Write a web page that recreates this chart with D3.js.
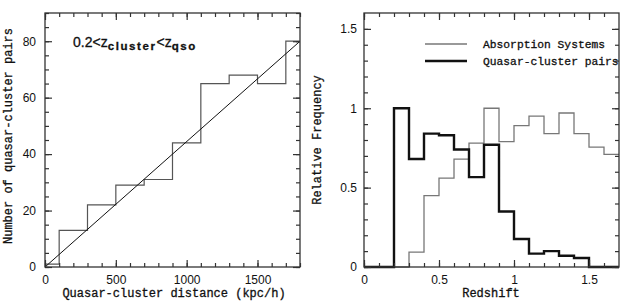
<!DOCTYPE html>
<html>
<head>
<meta charset="utf-8">
<script src="https://cdn.jsdelivr.net/npm/d3@7"></script>
<style>
  body { margin: 0; background: #fff; }
  svg text { fill: #111; }
  .tick text { font-family: "Liberation Sans", Arial, sans-serif; font-size: 12px; }
  .lab { font-family: "Liberation Mono", "DejaVu Sans Mono", monospace; stroke: #111; stroke-width: 0.3px; }
</style>
</head>
<body>
<div id="canvas"></div>
<script>
"use strict"

/* Left panel data: pair counts per distance bin */
let distEdges = [0, 100, 300, 500, 700, 900, 1100, 1300, 1500, 1700, 1800];
let pairCounts = [1, 13, 22, 29, 31, 44, 65, 68, 65, 80];
let fitLine = [[0, 0], [1800, 80]];

/* Right panel data: relative frequency per redshift bin (width 0.1) */
let zEdges = [0, 0.1, 0.2, 0.3, 0.4, 0.5, 0.6, 0.7, 0.8, 0.9, 1.0, 1.1, 1.2, 1.3, 1.4, 1.5, 1.6, 1.7];
let absorption = [0, 0, 0, 0.094, 0.45, 0.56, 0.68, 0.78, 1.0, 0.79, 0.89, 0.95, 0.84, 0.97, 0.84, 0.755, 0.71];
let qsoPairs = [0, 0, 1.0, 0.68, 0.84, 0.83, 0.74, 0.566, 0.77, 0.35, 0.176, 0.084, 0.10, 0.071, 0.057, 0, 0];
let legendNames = ["Absorption Systems", "Quasar-cluster pairs"];

let svgWidth = 623;
let svgHeight = 303;

let svg = d3.select("#canvas")
    .append("svg")
    .attr("width", svgWidth)
    .attr("height", svgHeight);

let frameTop = 13, frameBottom = 267;

/* boxed frame with inward ticks on all four sides */
function drawFrame(x, y, xMajor, xMinor, yMajor, yMinor, fmt, yPad) {
    let g = svg.append("g");
    let [x0, x1] = x.range();
    let [y0, y1] = y.range();

    // minor ticks
    let minor = [
        [d3.axisBottom(x).tickValues(xMinor), "translate(0," + y0 + ")"],
        [d3.axisTop(x).tickValues(xMinor), "translate(0," + y1 + ")"],
        [d3.axisLeft(y).tickValues(yMinor), "translate(" + x0 + ",0)"],
        [d3.axisRight(y).tickValues(yMinor), "translate(" + x1 + ",0)"]
    ];
    minor.forEach(function (m) {
        g.append("g").attr("transform", m[1])
            .call(m[0].tickSize(-4).tickFormat(""))
            .select(".domain").remove();
    });

    // major ticks, labels on bottom and left
    let bottom = g.append("g").attr("transform", "translate(0," + y0 + ")")
        .call(d3.axisBottom(x).tickValues(xMajor).tickSize(-7).tickPadding(8).tickFormat(fmt));
    let top = g.append("g").attr("transform", "translate(0," + y1 + ")")
        .call(d3.axisTop(x).tickValues(xMajor).tickSize(-7).tickFormat(""));
    let left = g.append("g").attr("transform", "translate(" + x0 + ",0)")
        .call(d3.axisLeft(y).tickValues(yMajor).tickSize(-7).tickPadding(yPad).tickFormat(fmt));
    let right = g.append("g").attr("transform", "translate(" + x1 + ",0)")
        .call(d3.axisRight(y).tickValues(yMajor).tickSize(-7).tickFormat(""));
    [bottom, top, left, right].forEach(s => s.select(".domain").remove());

    g.selectAll(".tick line").attr("stroke", "#333").attr("stroke-width", 1.2);
    g.selectAll(".tick text").attr("fill", "#111");
    g.append("rect")
        .attr("x", x0).attr("y", y1)
        .attr("width", x1 - x0).attr("height", y0 - y1)
        .attr("fill", "none").attr("stroke", "#333").attr("stroke-width", 1.3);
}

function stepPoints(edges, values) {
    let pts = values.map((v, i) => [edges[i], v]);
    pts.push([edges[edges.length - 1], values[values.length - 1]]);
    return pts;
}

/**** Left panel ****/
let xL = d3.scaleLinear().domain([0, 1800]).range([45, 300]);
let yL = d3.scaleLinear().domain([0, 90]).range([frameBottom, frameTop]);

svg.append("path")
    .attr("d", d3.line().x(d => xL(d[0])).y(d => yL(d[1]))
        .curve(d3.curveStepAfter)(stepPoints(distEdges, pairCounts)))
    .attr("fill", "none").attr("stroke", "#555").attr("stroke-width", 1.2);

svg.append("path")
    .attr("d", d3.line().x(d => xL(d[0])).y(d => yL(d[1]))(fitLine))
    .attr("fill", "none").attr("stroke", "#111").attr("stroke-width", 1);

drawFrame(xL, yL,
    [0, 500, 1000, 1500],
    d3.range(0, 1801, 100),
    [0, 20, 40, 60, 80],
    d3.range(0, 91, 5),
    d3.format("d"), 9);

/* annotation with subscripts */
let ann = svg.append("text")
    .attr("x", 73).attr("y", 47)
    .attr("font-family", "Liberation Sans, Arial, sans-serif")
    .attr("font-size", 14)
    .attr("stroke", "#111").attr("stroke-width", 0.3);
ann.append("tspan").text("0.2<z");
ann.append("tspan").attr("dy", 3).attr("font-size", 11.5).attr("font-weight", "bold")
    .attr("letter-spacing", 1.6).text("cluster");
ann.append("tspan").attr("dy", -3).text("<z");
ann.append("tspan").attr("dy", 3).attr("font-size", 11.5).attr("font-weight", "bold")
    .attr("letter-spacing", 1.6).text("qso");

svg.append("text")
    .attr("class", "lab")
    .attr("x", 174).attr("y", 297)
    .attr("text-anchor", "middle")
    .attr("font-size", 12)
    .text("Quasar-cluster distance (kpc/h)");

svg.append("text")
    .attr("class", "lab")
    .attr("transform", "translate(12,136) rotate(-90)")
    .attr("text-anchor", "middle")
    .attr("font-size", 12)
    .text("Number of quasar-cluster pairs");

/**** Right panel ****/
let xR = d3.scaleLinear().domain([0, 1.7]).range([364, 619]);
let yR = d3.scaleLinear().domain([0, 1.6]).range([frameBottom, frameTop]);

let lineR = d3.line()
    .x(d => xR(d[0]))
    .y(d => yR(d[1]))
    .curve(d3.curveStepAfter);

svg.append("path")
    .attr("d", lineR(stepPoints(zEdges, absorption)))
    .attr("fill", "none").attr("stroke", "#777").attr("stroke-width", 1.3);

svg.append("path")
    .attr("d", lineR(stepPoints(zEdges, qsoPairs)))
    .attr("fill", "none").attr("stroke", "#111").attr("stroke-width", 2.4);

drawFrame(xR, yR,
    [0, 0.5, 1, 1.5],
    d3.range(0, 17).map(i => i / 10),
    [0, 0.5, 1, 1.5],
    d3.range(0, 16).map(i => i / 10),
    d3.format("~g"), 7);

let legendStyles = [{ stroke: "#777", width: 1.3 }, { stroke: "#111", width: 2.4 }];
legendNames.forEach(function (name, i) {
    let ly = 44 + i * 17;
    svg.append("line")
        .attr("x1", 425).attr("x2", 467)
        .attr("y1", ly).attr("y2", ly)
        .attr("stroke", legendStyles[i].stroke)
        .attr("stroke-width", legendStyles[i].width);
    svg.append("text")
        .attr("class", "lab")
        .attr("x", 483).attr("y", ly + 4)
        .attr("font-size", 11.3)
        .text(name);
});

svg.append("text")
    .attr("class", "lab")
    .attr("x", 491).attr("y", 297)
    .attr("text-anchor", "middle")
    .attr("font-size", 12)
    .text("Redshift");

svg.append("text")
    .attr("class", "lab")
    .attr("transform", "translate(321,140) rotate(-90)")
    .attr("text-anchor", "middle")
    .attr("font-size", 12)
    .text("Relative Frequency");
</script>
</body>
</html>
